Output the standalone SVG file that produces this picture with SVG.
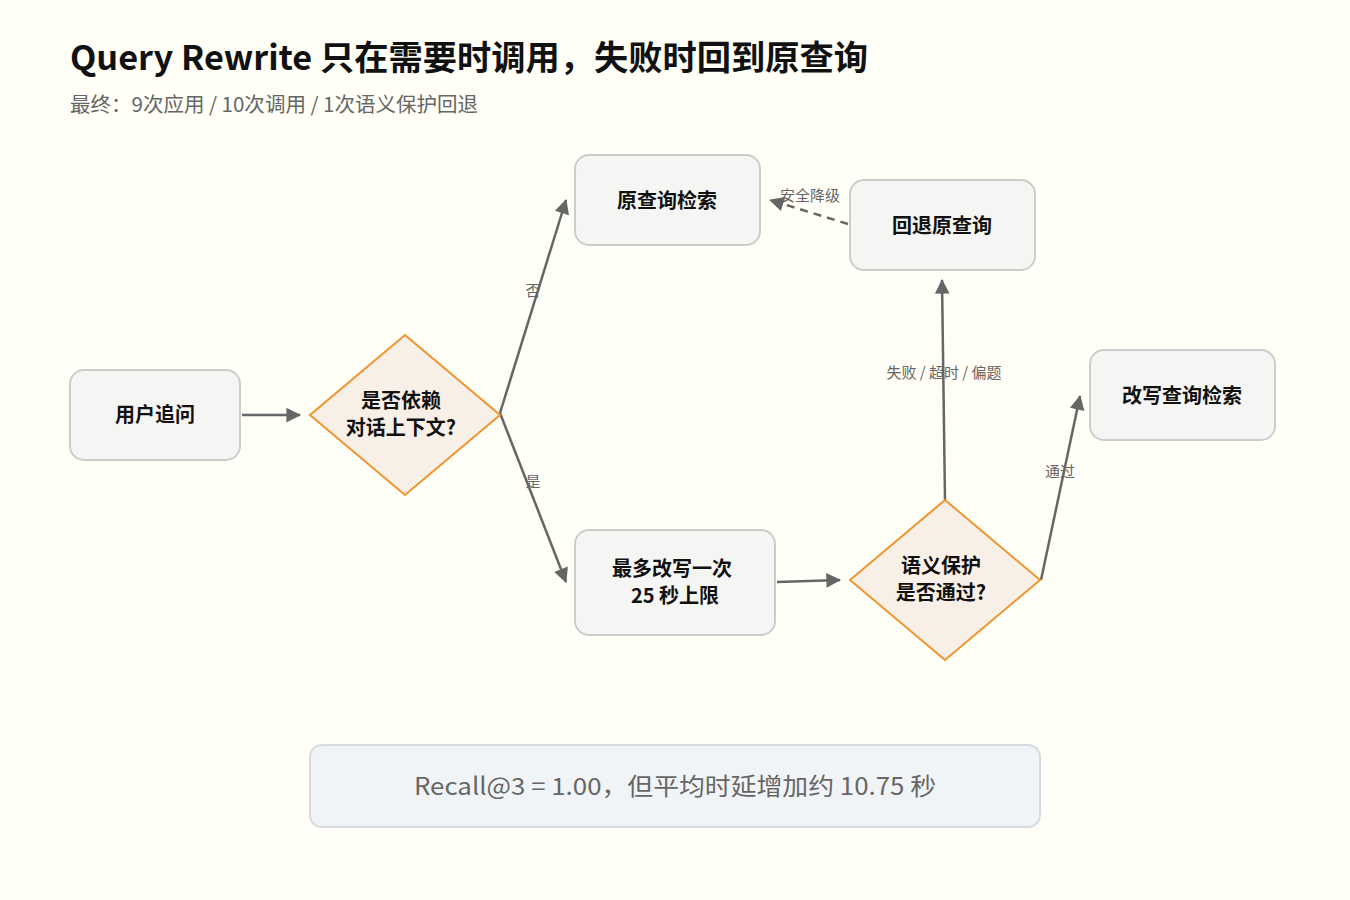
<svg xmlns="http://www.w3.org/2000/svg" width="1350" height="900" viewBox="0 0 1350 900">
<style>
text{font-family:"Noto Sans CJK SC","Noto Sans",sans-serif}
.box{fill:#f5f6f4;stroke:#cccccc;stroke-width:2}
.dia{fill:#f8efe6;stroke:#f0952e;stroke-width:2}
.nt{font-size:20px;font-weight:700;fill:#111;text-anchor:middle}
.el{font-size:15px;fill:#666;text-anchor:middle}
.ln{stroke:#666;stroke-width:2.5;fill:none;marker-end:url(#ah)}
</style>
<defs><marker id="ah" viewBox="0 0 10 10" refX="9" refY="5" markerWidth="7" markerHeight="7" markerUnits="userSpaceOnUse" orient="auto" style="overflow:visible"><path d="M0,0L10,5L0,10z" fill="#666" transform="scale(2.1)translate(-5,-2.6)"/></marker></defs>
<rect width="1350" height="900" fill="#fffef7"/>
<text x="70" y="70" font-size="34" font-weight="700" fill="#111" textLength="798" lengthAdjust="spacingAndGlyphs">Query Rewrite 只在需要时调用，失败时回到原查询</text>
<text x="70" y="112" font-size="20" fill="#666" textLength="408" lengthAdjust="spacingAndGlyphs">最终：9次应用 / 10次调用 / 1次语义保护回退</text>
<g id="connectors">
<path class="ln" d="M242,415L300,415"/>
<path class="ln" d="M500,413L566,200"/>
<path class="ln" d="M500,413L566,582"/>
<path class="ln" d="M777,582L840,580"/>
<path class="ln" d="M945,500L942,280"/>
<path class="ln" d="M1041,580L1080,396"/>
<path class="ln" d="M848,224L770,200" stroke-dasharray="8,6"/>
<text class="el" x="533" y="296">否</text>
<text class="el" x="533" y="487">是</text>
<text class="el" x="810" y="201">安全降级</text>
<text class="el" x="944" y="378">失败 / 超时 / 偏题</text>
<text class="el" x="1060" y="477">通过</text>
</g>
<g id="n1"><rect class="box" x="70" y="370" width="170" height="90" rx="14"/><text class="nt" x="155" y="422">用户追问</text></g>
<g id="n2"><path class="dia" d="M405,335L500,415L405,495L310,415z"/><text class="nt" x="401" y="408">是否依赖</text><text class="nt" x="401" y="435">对话上下文?</text></g>
<g id="n3"><rect class="box" x="575" y="155" width="185" height="90" rx="14"/><text class="nt" x="667" y="208">原查询检索</text></g>
<g id="n4"><rect class="box" x="850" y="180" width="185" height="90" rx="14"/><text class="nt" x="942" y="233">回退原查询</text></g>
<g id="n5"><rect class="box" x="575" y="530" width="200" height="105" rx="14"/><text class="nt" x="672" y="576">最多改写一次</text><text class="nt" x="675" y="603">25 秒上限</text></g>
<g id="n6"><path class="dia" d="M945,500L1040,580L945,660L850,580z"/><text class="nt" x="941" y="573">语义保护</text><text class="nt" x="941" y="600">是否通过?</text></g>
<g id="n7"><rect class="box" x="1090" y="350" width="185" height="90" rx="14"/><text class="nt" x="1182" y="403">改写查询检索</text></g>
<g id="note"><rect x="310" y="745" width="730" height="82" rx="12" fill="#f1f4f6" stroke="#d6dbe0" stroke-width="2"/><text x="675" y="795" font-size="24" fill="#666" text-anchor="middle" textLength="522" lengthAdjust="spacingAndGlyphs">Recall@3 = 1.00，但平均时延增加约 10.75 秒</text></g>
</svg>
